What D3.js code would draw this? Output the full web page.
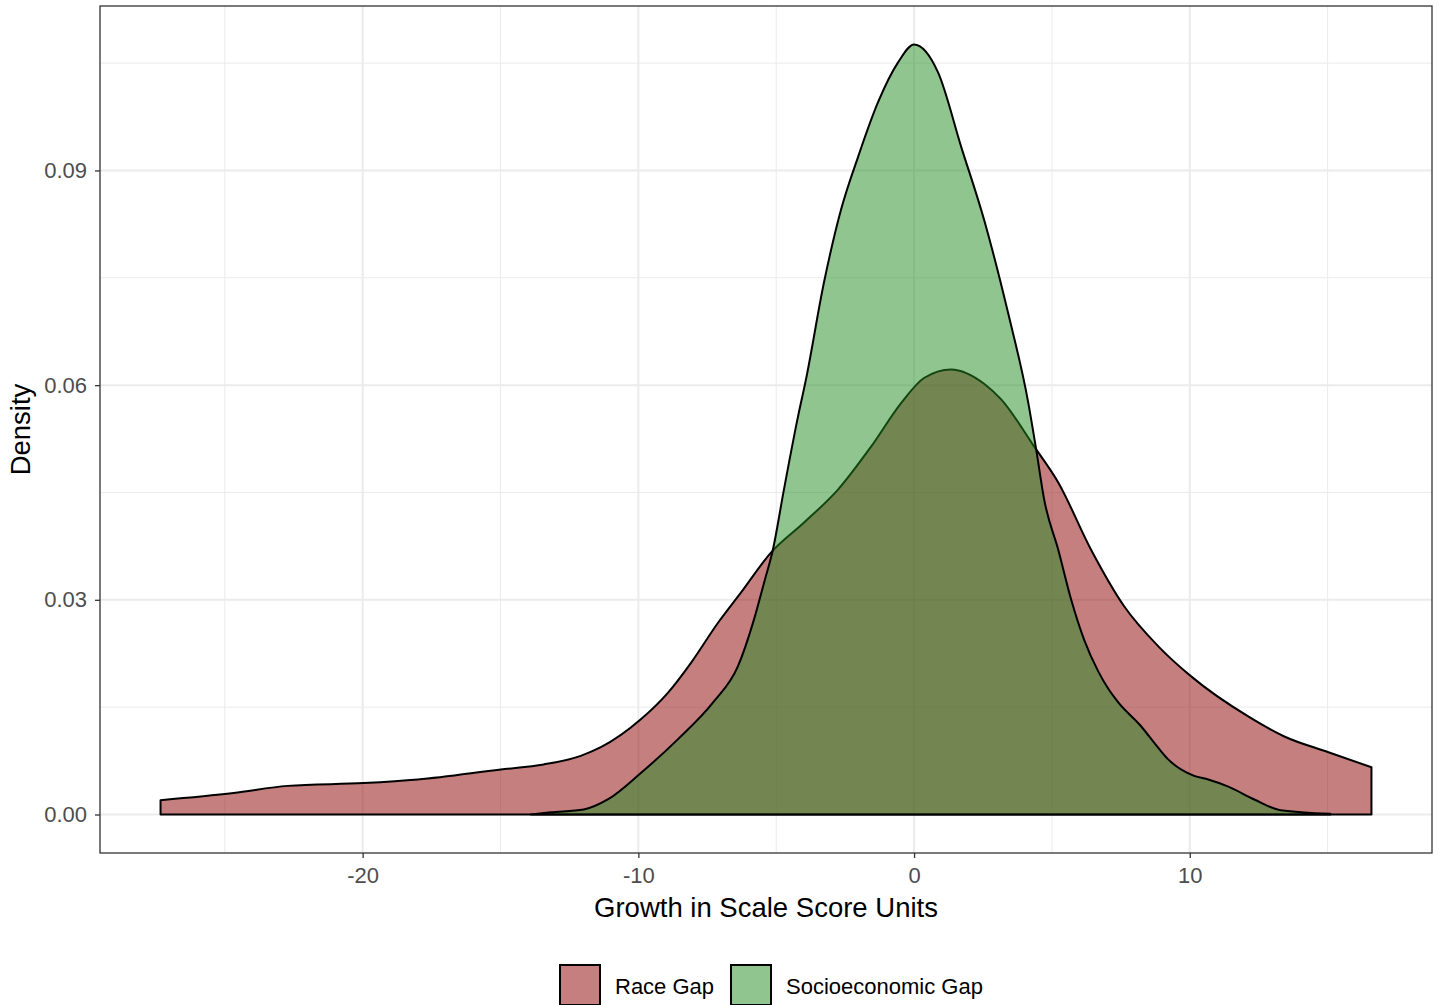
<!DOCTYPE html>
<html>
<head>
<meta charset="utf-8">
<script src="https://cdn.jsdelivr.net/npm/d3@7"></script>
<style>
  body { margin: 0; background: #fff; }
  text { font-family: "Liberation Sans", Arial, sans-serif; }
</style>
</head>
<body>
<div id="chart"></div>
<script>
// valores (x = crecimiento, d = densidad)
const raceX = [-27.33, -24.68, -22.72, -19.96, -18.0, -14.99, -13.43, -12.09, -11.36, -9.91, -8.93, -8.09, -7.11, -6.28, -5.19, -3.99, -2.76, -1.56, -0.47, 0.36, 1.34, 2.54, 3.16, 4.36, 5.23, 6.42, 7.62, 8.86, 10.05, 12.12, 13.43, 15.03, 16.59];
const raceD = [0.0020, 0.0030, 0.0040, 0.0044, 0.0049, 0.0063, 0.0070, 0.0082, 0.0094, 0.0133, 0.0170, 0.0212, 0.0268, 0.0310, 0.0366, 0.0408, 0.0454, 0.0514, 0.0575, 0.0610, 0.0622, 0.0602, 0.0580, 0.0514, 0.0464, 0.0370, 0.0291, 0.0235, 0.0193, 0.0137, 0.0109, 0.0087, 0.0066];

const sesX = [-13.9, -13.18, -11.98, -11.11, -9.91, -8.57, -7.26, -6.39, -5.81, -5.44, -5.12, -4.72, -4.21, -3.92, -3.27, -2.65, -2.03, -1.31, -0.58, 0, 0.87, 1.71, 2.54, 3.41, 4.14, 4.43, 4.72, 5.23, 5.70, 6.17, 6.68, 7.04, 7.40, 8.24, 8.86, 9.22, 10.16, 10.67, 11.4, 12.34, 13.3, 15.1];
const sesD = [0.0, 0.0003, 0.0007, 0.0021, 0.0058, 0.0105, 0.0158, 0.0207, 0.0272, 0.0324, 0.0370, 0.0454, 0.0556, 0.0608, 0.0743, 0.0845, 0.0919, 0.0995, 0.1051, 0.1076, 0.1037, 0.0933, 0.0831, 0.0701, 0.0576, 0.0510, 0.0440, 0.0370, 0.0300, 0.0244, 0.0200, 0.0176, 0.0157, 0.0123, 0.0093, 0.0077, 0.0054, 0.0049, 0.0039, 0.0021, 0.0006, 0.0001];

const groups = ["Race Gap", "Socioeconomic Gap"];
const fills = ["#8b0000", "#228b22"];
const xTicks = [-20, -10, 0, 10];
const xMinor = [-25, -15, -5, 5, 15];
const yTicks = [0, 0.03, 0.06, 0.09];
const yMinor = [0.015, 0.045, 0.075, 0.105];

const width = 1439;
const height = 1005;
const panel = { left: 100, right: 1432, top: 6, bottom: 853 };

const race = raceX.map((x, i) => ({ x: x, d: raceD[i] }));
const ses = sesX.map((x, i) => ({ x: x, d: sesD[i] }));

// expansion 5% como ggplot
const xmin = d3.min([...raceX, ...sesX]);
const xmax = d3.max([...raceX, ...sesX]);
const xpad = (xmax - xmin) * 0.05;
const dmax = d3.max([...raceD, ...sesD]);
const ypad = dmax * 0.05;

const x = d3.scaleLinear().domain([xmin - xpad, xmax + xpad]).range([panel.left, panel.right]);
const y = d3.scaleLinear().domain([-ypad, dmax + ypad]).range([panel.bottom, panel.top]);

const svg = d3.select("#chart").append("svg")
    .attr("width", width)
    .attr("height", height);

// grilla
const grid = svg.append("g");
grid.selectAll(".vmin").data(xMinor).join("line")
    .attr("x1", d => x(d)).attr("x2", d => x(d))
    .attr("y1", panel.top).attr("y2", panel.bottom)
    .attr("stroke", "#ebebeb").attr("stroke-width", 1);
grid.selectAll(".hmin").data(yMinor).join("line")
    .attr("y1", d => y(d)).attr("y2", d => y(d))
    .attr("x1", panel.left).attr("x2", panel.right)
    .attr("stroke", "#ebebeb").attr("stroke-width", 1);
grid.selectAll(".vmaj").data(xTicks).join("line")
    .attr("x1", d => x(d)).attr("x2", d => x(d))
    .attr("y1", panel.top).attr("y2", panel.bottom)
    .attr("stroke", "#ebebeb").attr("stroke-width", 2);
grid.selectAll(".hmaj").data(yTicks).join("line")
    .attr("y1", d => y(d)).attr("y2", d => y(d))
    .attr("x1", panel.left).attr("x2", panel.right)
    .attr("stroke", "#ebebeb").attr("stroke-width", 2);

// densidades
const area = d3.area()
    .x(d => x(d.x))
    .y0(y(0))
    .y1(d => y(d.d))
    .curve(d3.curveMonotoneX);

[race, ses].forEach((data, i) => {
  svg.append("path")
    .datum(data)
    .attr("d", area)
    .attr("fill", fills[i])
    .attr("fill-opacity", 0.5)
    .attr("stroke", "#000")
    .attr("stroke-width", 2)
    .attr("stroke-linejoin", "round");
});

// borde del panel
svg.append("rect")
    .attr("x", panel.left).attr("y", panel.top)
    .attr("width", panel.right - panel.left)
    .attr("height", panel.bottom - panel.top)
    .attr("fill", "none")
    .attr("stroke", "#333333")
    .attr("stroke-width", 1.3);

// ejes
const xAxis = svg.append("g")
    .attr("transform", `translate(0,${panel.bottom})`)
    .call(d3.axisBottom(x).tickValues(xTicks).tickSize(5).tickPadding(9).tickFormat(d => String(d)));
const yAxis = svg.append("g")
    .attr("transform", `translate(${panel.left},0)`)
    .call(d3.axisLeft(y).tickValues(yTicks).tickSize(5).tickPadding(8).tickFormat(d3.format(".2f")));

[xAxis, yAxis].forEach(g => {
  g.select(".domain").remove();
  g.selectAll(".tick line").attr("stroke", "#333333").attr("stroke-width", 1.3);
  g.selectAll(".tick text")
    .attr("fill", "#4d4d4d")
    .style("font-size", "22px")
    .style("font-family", "'Liberation Sans', Arial, sans-serif");
});

// titulos
svg.append("text")
    .attr("x", (panel.left + panel.right) / 2)
    .attr("y", 917)
    .attr("text-anchor", "middle")
    .style("font-size", "27.5px")
    .attr("fill", "#000")
    .text("Growth in Scale Score Units");

svg.append("text")
    .attr("transform", `translate(30,${(panel.top + panel.bottom) / 2}) rotate(-90)`)
    .attr("text-anchor", "middle")
    .style("font-size", "27.5px")
    .attr("fill", "#000")
    .text("Density");

// leyenda
const legendX = [560, 731];
const legend = svg.append("g");
groups.forEach((g, i) => {
  legend.append("rect")
    .attr("x", legendX[i]).attr("y", 965)
    .attr("width", 40).attr("height", 40)
    .attr("fill", fills[i]).attr("fill-opacity", 0.5)
    .attr("stroke", "#000").attr("stroke-width", 2);
  legend.append("text")
    .attr("x", legendX[i] + 55).attr("y", 994)
    .style("font-size", "22px")
    .attr("fill", "#000")
    .text(g);
});
</script>
</body>
</html>
